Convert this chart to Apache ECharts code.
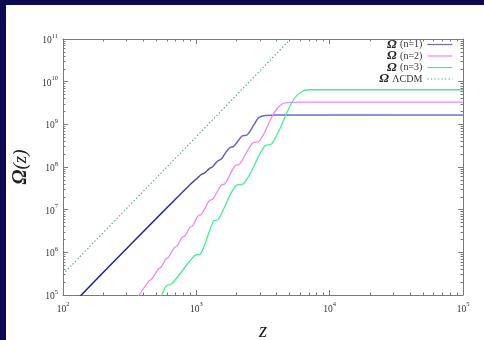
<!DOCTYPE html>
<html>
<head>
<meta charset="utf-8">
<script src="https://cdn.jsdelivr.net/npm/echarts@6/dist/echarts.min.js"></script>
<style>
html, body { margin: 0; padding: 0; background: #0b0b50; width: 484px; height: 340px; overflow: hidden; }
#chart { position: absolute; left: 6px; top: 5px; width: 478px; height: 335px; background: #fff; }
</style>
</head>
<body>
<div id="chart"></div>
<script>
// [z, Omega] pairs (log-log)
const omegaN1 = [
    [100, 3.63e4], [347, 1.95e6], [891, 3.80e7], [1000, 5.25e7], [1096, 6.76e7],
    [1148, 7.16e7], [1259, 9.33e7], [1318, 1.00e8], [1445, 1.38e8], [1531, 1.51e8],
    [1679, 2.29e8], [1799, 2.88e8], [1905, 3.05e8], [2089, 4.37e8], [2213, 5.37e8],
    [2399, 5.62e8], [2692, 9.55e8], [2951, 1.45e9], [3311, 1.62e9], [3981, 1.66e9],
    [100000, 1.66e9]
];
const omegaN2 = [
    [316, 5.25e4], [372, 1.00e5], [442, 2.14e5], [462, 2.34e5], [519, 4.07e5],
    [543, 4.47e5], [589, 6.92e5], [617, 7.59e5], [684, 1.29e6], [716, 1.41e6],
    [782, 2.24e6], [822, 2.45e6], [891, 3.80e6], [938, 4.17e6], [1028, 7.08e6],
    [1091, 7.76e6], [1253, 1.62e7], [1334, 1.78e7], [1531, 3.72e7], [1641, 4.07e7],
    [1950, 1.07e8], [2113, 1.17e8], [2661, 3.72e8], [2951, 3.98e8], [3802, 1.78e9],
    [4365, 2.95e9], [5012, 3.27e9], [6310, 3.31e9], [100000, 3.31e9]
];
const omegaN3 = [
    [525, 7.08e4], [550, 1.00e5], [596, 1.66e5], [653, 1.82e5], [977, 8.51e5],
    [1072, 9.12e5], [1343, 5.37e6], [1462, 5.89e6], [1995, 3.72e7], [2239, 3.98e7],
    [3273, 3.16e8], [3673, 3.47e8], [5333, 3.72e9], [6310, 6.03e9], [7244, 6.46e9],
    [100000, 6.46e9]
];
const omegaLCDM = [
    [100, 3.09e5], [316, 1.26e7], [1000, 5.13e8], [3162, 2.14e10], [6310, 2.0e11]
];

const seriesNames = ['Ω (n=1)', 'Ω (n=2)', 'Ω (n=3)', 'Ω ΛCDM'];
const seriesColors = ['#6a6ab6', '#f088f0', '#44ee94', '#5c9e85'];

const xRange = [100, 100000];
const yRange = [1e5, 1e11];
const minorMantissas = [2, 3, 4, 5, 6, 7, 8, 9];
const xDecades = [2, 3, 4];
const yDecades = [5, 6, 7, 8, 9, 10];

const serif = '"Liberation Serif", "DejaVu Serif", serif';
const frameColor = '#7a7a7a';

function minorTicks(decades) {
    const res = [];
    decades.forEach(function (d) {
        minorMantissas.forEach(function (m) { res.push(d + Math.log10(m)); });
    });
    return res;
}

const powerLabel = {
    formatter: function (v) {
        return '{b|10}{e|' + Math.round(Math.log10(v)) + '}';
    },
    rich: {
        b: { fontFamily: serif, fontSize: 9.5, color: '#333', lineHeight: 13, verticalAlign: 'bottom' },
        e: { fontFamily: serif, fontSize: 6.5, color: '#333', lineHeight: 13, verticalAlign: 'top' }
    }
};

function majorAxis(pos, range, labelMargin, extra) {
    return Object.assign({
        type: 'log',
        logBase: 10,
        position: pos,
        min: range[0],
        max: range[1],
        axisLine: { show: true, lineStyle: { color: frameColor, width: 1 } },
        axisTick: { show: true, inside: true, length: 5, lineStyle: { color: frameColor } },
        axisLabel: labelMargin ? Object.assign({ show: true, margin: labelMargin }, powerLabel) : { show: false },
        splitLine: { show: false }
    }, extra || {});
}

function minorAxis(pos, decades, lo, hi) {
    return {
        type: 'value',
        position: pos,
        min: lo,
        max: hi,
        axisLine: { show: false },
        axisTick: { show: true, inside: true, length: 2.5, customValues: minorTicks(decades), lineStyle: { color: frameColor } },
        axisLabel: { show: false },
        splitLine: { show: false }
    };
}

const chart = echarts.init(document.getElementById('chart'));

const blueGrad = new echarts.graphic.LinearGradient(0, 0, 1, 0, [
    { offset: 0, color: '#1a1a92' },
    { offset: 0.22, color: '#26269a' },
    { offset: 0.42, color: '#6a6ab6' },
    { offset: 1, color: '#7373bc' }
]);

function mkSeries(i, data, lineStyle) {
    return {
        name: seriesNames[i],
        type: 'line',
        xAxisIndex: 0,
        yAxisIndex: 0,
        data: data,
        color: seriesColors[i],
        showSymbol: false,
        symbol: 'none',
        smooth: 0.35,
        clip: true,
        lineStyle: lineStyle
    };
}

const option = {
    animation: false,
    backgroundColor: '#ffffff',
    grid: { left: 57, right: 21, top: 34, bottom: 45, containLabel: false, outerBoundsMode: 'none' },
    legend: {
        orient: 'vertical',
        right: 26,
        top: 28,
        align: 'right',
        itemWidth: 25,
        itemHeight: 8,
        itemGap: -1.5,
        selectedMode: false,
        itemStyle: { opacity: 0 },
        data: seriesNames.map(function (n, i) {
            return { name: n, lineStyle: { color: seriesColors[i], width: 1.2 } };
        }),
        formatter: function (name) {
            const parts = name.split(' ');
            return '{o|' + parts[0] + '} {s|' + parts.slice(1).join(' ') + '}';
        },
        textStyle: {
            lineHeight: 11.5,
            rich: {
                o: { fontFamily: serif, fontStyle: 'italic', fontWeight: 'bold', fontSize: 13, color: '#222', lineHeight: 11.5 },
                s: { fontFamily: serif, fontSize: 10, color: '#333', lineHeight: 11.5 }
            }
        }
    },
    xAxis: [
        majorAxis('bottom', xRange, 6, {
            name: 'z',
            nameLocation: 'middle',
            nameGap: 26,
            nameTextStyle: { fontFamily: serif, fontStyle: 'italic', fontSize: 21, color: '#222' }
        }),
        majorAxis('top', xRange, 0),
        minorAxis('bottom', xDecades, 2, 5),
        minorAxis('top', xDecades, 2, 5)
    ],
    yAxis: [
        majorAxis('left', yRange, 5, {
            name: '{o|Ω}{t|(z)}',
            nameLocation: 'middle',
            nameGap: 28,
            nameTextStyle: {
                rich: {
                    o: { fontFamily: serif, fontStyle: 'italic', fontWeight: 'bold', fontSize: 20, color: '#222' },
                    t: { fontFamily: serif, fontStyle: 'italic', fontSize: 19, color: '#222' }
                }
            }
        }),
        majorAxis('right', yRange, 0),
        minorAxis('left', yDecades, 5, 11),
        minorAxis('right', yDecades, 5, 11)
    ],
    series: [
        mkSeries(0, omegaN1, { color: blueGrad, width: 1.5 }),
        mkSeries(1, omegaN2, { width: 1.3 }),
        mkSeries(2, omegaN3, { width: 1.3 }),
        mkSeries(3, omegaLCDM, { width: 1.2, type: [1.3, 2.2] })
    ]
};

chart.setOption(option);
</script>
</body>
</html>
